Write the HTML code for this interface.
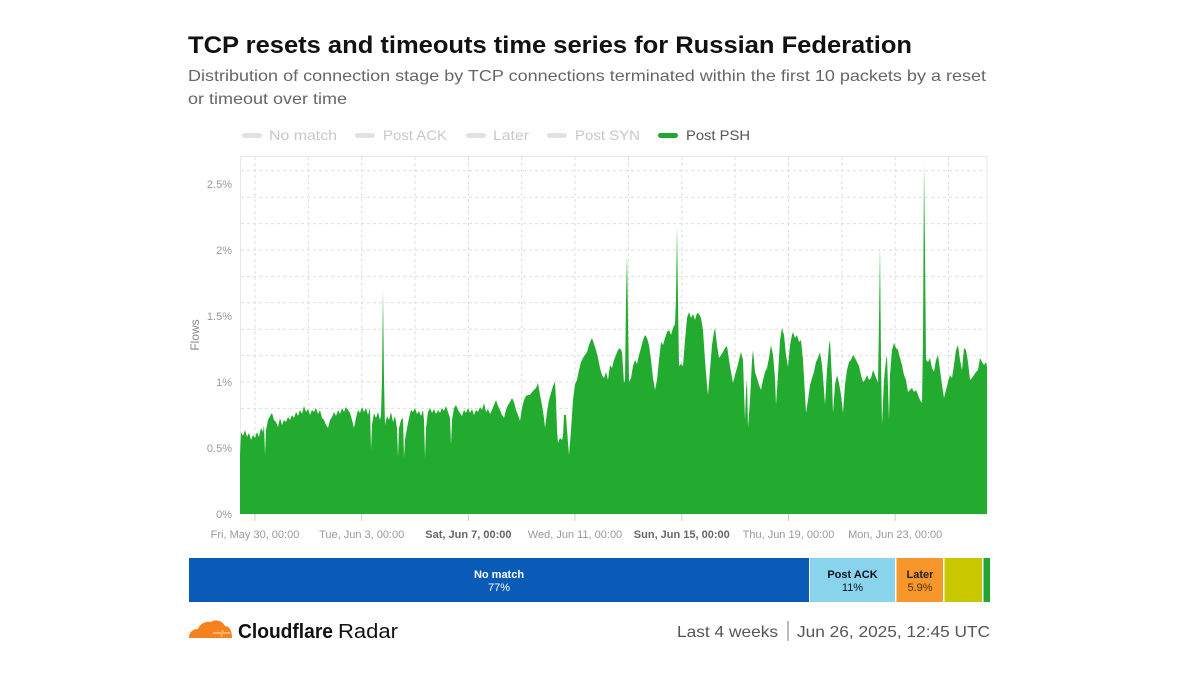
<!DOCTYPE html>
<html><head><meta charset="utf-8"><style>
html,body{margin:0;padding:0;background:#fff;}
svg{display:block;}
text{font-family:"Liberation Sans",Arial,sans-serif;}
</style></head><body>
<svg width="1200" height="675" viewBox="0 0 1200 675" xmlns="http://www.w3.org/2000/svg">
<rect width="1200" height="675" fill="#fff"/>
<!-- Title -->
<text x="188" y="53" font-size="24" font-weight="bold" fill="#111" textLength="724" lengthAdjust="spacingAndGlyphs">TCP resets and timeouts time series for Russian Federation</text>
<text x="188" y="81" font-size="16" fill="#666" textLength="798" lengthAdjust="spacingAndGlyphs">Distribution of connection stage by TCP connections terminated within the first 10 packets by a reset</text>
<text x="188" y="104" font-size="16" fill="#666" textLength="159" lengthAdjust="spacingAndGlyphs">or timeout over time</text>
<!-- Legend -->
<g font-size="14">
<rect x="242" y="133" width="20" height="5" rx="2.5" fill="#e2e2e2"/>
<text x="269" y="140" fill="#c8c8c8" textLength="68" lengthAdjust="spacingAndGlyphs">No match</text>
<rect x="355" y="133" width="20" height="5" rx="2.5" fill="#e2e2e2"/>
<text x="383" y="140" fill="#c8c8c8" textLength="64" lengthAdjust="spacingAndGlyphs">Post ACK</text>
<rect x="466" y="133" width="20" height="5" rx="2.5" fill="#e2e2e2"/>
<text x="493" y="140" fill="#c8c8c8" textLength="36" lengthAdjust="spacingAndGlyphs">Later</text>
<rect x="547" y="133" width="20" height="5" rx="2.5" fill="#e2e2e2"/>
<text x="575" y="140" fill="#c8c8c8" textLength="65" lengthAdjust="spacingAndGlyphs">Post SYN</text>
<rect x="658" y="133" width="20" height="5" rx="2.5" fill="#22a632"/>
<text x="686" y="140" fill="#555" textLength="64" lengthAdjust="spacingAndGlyphs">Post PSH</text>
</g>
<!-- Plot border -->
<rect x="240.5" y="156.5" width="746.5" height="357.5" fill="none" stroke="#e8e8e8" stroke-width="1"/>
<!-- Grid -->
<g stroke="#dedede" stroke-width="1" stroke-dasharray="3,3">
<line x1="241" x2="986" y1="487.6" y2="487.6"/>
<line x1="241" x2="986" y1="461.2" y2="461.2"/>
<line x1="241" x2="986" y1="434.8" y2="434.8"/>
<line x1="241" x2="986" y1="408.4" y2="408.4"/>
<line x1="241" x2="986" y1="382" y2="382"/>
<line x1="241" x2="986" y1="355.6" y2="355.6"/>
<line x1="241" x2="986" y1="329.2" y2="329.2"/>
<line x1="241" x2="986" y1="302.8" y2="302.8"/>
<line x1="241" x2="986" y1="276.4" y2="276.4"/>
<line x1="241" x2="986" y1="250" y2="250"/>
<line x1="241" x2="986" y1="223.6" y2="223.6"/>
<line x1="241" x2="986" y1="197.2" y2="197.2"/>
<line x1="241" x2="986" y1="170.8" y2="170.8"/>
<line x1="255" x2="255" y1="157" y2="514"/>
<line x1="308.3" x2="308.3" y1="157" y2="514"/>
<line x1="361.7" x2="361.7" y1="157" y2="514"/>
<line x1="415" x2="415" y1="157" y2="514"/>
<line x1="468.4" x2="468.4" y1="157" y2="514"/>
<line x1="521.7" x2="521.7" y1="157" y2="514"/>
<line x1="575" x2="575" y1="157" y2="514"/>
<line x1="628.4" x2="628.4" y1="157" y2="514"/>
<line x1="681.8" x2="681.8" y1="157" y2="514"/>
<line x1="735" x2="735" y1="157" y2="514"/>
<line x1="788.5" x2="788.5" y1="157" y2="514"/>
<line x1="841.8" x2="841.8" y1="157" y2="514"/>
<line x1="895.2" x2="895.2" y1="157" y2="514"/>
<line x1="948.5" x2="948.5" y1="157" y2="514"/>
</g>
<!-- Area -->
<path fill="#23ab30" d="M240,514 L240,455 L241,432 L243,436 L245,430 L247,437 L249,433 L251,440 L253,435 L255,438 L257,432 L259,437 L261,428 L263,432 L264,425 L265,455 L266,430 L268,420 L270,416 L272,413 L274,420 L276,422 L278,427 L280,418 L282,425 L284,420 L286,422 L288,417 L290,420 L292,415 L294,418 L296,412 L298,416 L300,410 L302,414 L304,406 L306,412 L308,409 L310,415 L312,410 L314,412 L316,408 L318,414 L320,410 L322,418 L324,420 L326,425 L328,428 L330,420 L332,417 L334,412 L336,416 L338,410 L340,414 L342,408 L344,412 L346,407 L348,410 L350,413 L352,420 L354,428 L356,418 L358,410 L360,413 L362,407 L364,412 L366,408 L368,415 L370,408 L371,450 L372,425 L374,413 L376,418 L378,412 L380,420 L381,415 L382,380 L383,290 L384,380 L385,425 L387,416 L389,420 L391,412 L393,422 L395,416 L397,428 L398,457 L399,428 L401,420 L403,418 L404,458 L405,440 L407,428 L409,418 L411,410 L413,412 L415,408 L417,414 L419,411 L421,416 L423,410 L424,420 L425,458 L426,428 L428,412 L430,408 L432,413 L434,409 L436,414 L438,410 L440,413 L442,408 L444,411 L446,406 L448,412 L450,418 L451,445 L452,420 L454,408 L456,405 L458,410 L460,413 L462,416 L464,410 L466,413 L468,408 L470,413 L472,409 L474,415 L476,410 L478,412 L480,407 L482,410 L484,403 L486,412 L488,409 L490,414 L492,410 L494,405 L496,400 L498,406 L500,410 L502,415 L504,418 L506,410 L508,405 L510,402 L512,398 L514,402 L516,410 L518,415 L520,421 L522,408 L524,400 L526,396 L528,395 L530,395 L532,392 L534,390 L536,388 L538,383 L540,395 L542,405 L544,418 L545,428 L547,412 L549,400 L551,393 L553,386 L555,382 L556,400 L557,430 L558,443 L560,438 L562,440 L563,436 L564,415 L566,415 L567,430 L569,455 L571,430 L573,400 L575,384 L577,380 L579,370 L581,362 L583,358 L585,355 L587,352 L589,345 L591,340 L592,338 L594,344 L596,350 L598,358 L600,368 L602,375 L604,378 L606,372 L608,380 L610,365 L612,368 L614,360 L616,355 L618,350 L620,348 L622,352 L624,383 L625,380 L626,300 L627,255 L628,320 L629,382 L631,378 L633,366 L635,360 L637,364 L639,355 L641,348 L643,340 L645,335 L647,338 L649,345 L651,360 L653,378 L655,390 L657,380 L659,360 L661,342 L663,345 L665,338 L667,332 L669,330 L671,335 L673,328 L675,324 L676,300 L677,226 L678,300 L679,366 L681,364 L683,366 L685,340 L687,318 L689,312 L691,318 L693,314 L695,320 L697,313 L699,314 L701,318 L703,330 L705,360 L707,385 L708,395 L710,370 L712,345 L714,332 L715,328 L717,345 L719,358 L721,355 L723,352 L725,348 L727,346 L729,360 L731,372 L733,383 L735,375 L737,368 L739,360 L741,352 L743,360 L745,420 L746,390 L747,380 L748,428 L750,400 L752,360 L753,350 L755,372 L757,378 L759,385 L761,390 L763,380 L765,372 L767,368 L769,358 L771,345 L773,355 L775,378 L776,405 L778,375 L780,340 L782,328 L784,335 L786,355 L788,367 L790,345 L792,335 L793,332 L795,338 L797,335 L799,342 L801,340 L803,360 L805,395 L806,413 L808,400 L810,385 L812,378 L814,372 L816,362 L818,358 L820,352 L822,365 L824,390 L825,405 L827,370 L829,345 L830,340 L832,380 L833,413 L835,385 L837,375 L839,383 L841,395 L843,413 L845,385 L847,370 L849,362 L851,360 L853,355 L855,358 L857,362 L859,366 L861,375 L863,382 L865,380 L867,375 L869,380 L871,378 L873,370 L875,375 L877,380 L878,383 L879,320 L880,245 L881,360 L882,425 L884,380 L886,360 L887,355 L889,420 L890,375 L892,350 L894,343 L896,348 L898,350 L900,358 L902,365 L904,375 L906,380 L908,392 L910,390 L912,388 L914,392 L916,390 L918,395 L920,400 L922,403 L923,340 L924,162 L925,250 L926,360 L928,362 L930,358 L932,368 L934,372 L936,360 L938,355 L940,370 L942,385 L944,398 L946,390 L948,382 L950,375 L952,378 L954,365 L956,350 L958,345 L960,360 L962,370 L964,348 L966,350 L968,362 L970,380 L972,378 L974,375 L976,372 L978,370 L980,358 L982,362 L984,365 L986,362 L987,367 L987,514 Z"/>
<!-- Y labels -->
<g font-size="11" fill="#999" text-anchor="end">
<text x="232" y="518">0%</text>
<text x="232" y="452">0.5%</text>
<text x="232" y="386">1%</text>
<text x="232" y="320">1.5%</text>
<text x="232" y="254">2%</text>
<text x="232" y="188">2.5%</text>
</g>
<text transform="translate(199,335) rotate(-90)" font-size="12" fill="#888" text-anchor="middle">Flows</text>
<!-- X ticks -->
<g stroke="#ccc" stroke-width="1">
<line x1="255" x2="255" y1="514" y2="521"/>
<line x1="361.7" x2="361.7" y1="514" y2="521"/>
<line x1="468.4" x2="468.4" y1="514" y2="521"/>
<line x1="575" x2="575" y1="514" y2="521"/>
<line x1="681.8" x2="681.8" y1="514" y2="521"/>
<line x1="788.5" x2="788.5" y1="514" y2="521"/>
<line x1="895.2" x2="895.2" y1="514" y2="521"/>
</g>
<g font-size="11" fill="#999" text-anchor="middle">
<text x="255" y="538">Fri, May 30, 00:00</text>
<text x="361.7" y="538">Tue, Jun 3, 00:00</text>
<text x="468.4" y="538" font-weight="bold" fill="#666">Sat, Jun 7, 00:00</text>
<text x="575" y="538">Wed, Jun 11, 00:00</text>
<text x="681.8" y="538" font-weight="bold" fill="#666">Sun, Jun 15, 00:00</text>
<text x="788.5" y="538">Thu, Jun 19, 00:00</text>
<text x="895.2" y="538">Mon, Jun 23, 00:00</text>
</g>
<!-- Stacked bar -->
<rect x="189" y="558" width="620" height="44" fill="#0a5bb8"/>
<rect x="810" y="558" width="85" height="44" fill="#89d3ec"/>
<rect x="896.5" y="558" width="46.5" height="44" fill="#f6962b"/>
<rect x="944.5" y="558" width="37.5" height="44" fill="#c9c800"/>
<rect x="983.5" y="558" width="6.5" height="44" fill="#22a632"/>
<g font-size="11" text-anchor="middle">
<text x="499" y="578" font-weight="bold" fill="#fff">No match</text>
<text x="499" y="591" fill="#fff">77%</text>
<text x="852.5" y="578" font-weight="bold" fill="#112">Post ACK</text>
<text x="852.5" y="591" fill="#112">11%</text>
<text x="920" y="578" font-weight="bold" fill="#222">Later</text>
<text x="920" y="591" fill="#4a3300">5.9%</text>
</g>
<!-- Footer logo -->
<g fill="#f6821f">
<path d="M189,638 C189,632 193,629 198,629 C200,624 205,621 211,622 C215,619 222,620 225,626 C229,626 232,630 232,638 Z"/>
</g>
<path d="M213,633 L230,633" stroke="#fff" stroke-width="1" opacity="0.8"/>
<path d="M221,637 L223,630" stroke="#fbad41" stroke-width="2"/>
<text x="238" y="638" font-size="20" font-weight="bold" fill="#111" textLength="95" lengthAdjust="spacingAndGlyphs">Cloudflare</text>
<text x="338" y="638" font-size="20" fill="#111" textLength="60" lengthAdjust="spacingAndGlyphs">Radar</text>
<text x="677" y="637" font-size="16" fill="#555" textLength="101" lengthAdjust="spacingAndGlyphs">Last 4 weeks</text>
<line x1="788" x2="788" y1="621" y2="641" stroke="#777" stroke-width="1"/>
<text x="797" y="637" font-size="16" fill="#555" textLength="193" lengthAdjust="spacingAndGlyphs">Jun 26, 2025, 12:45 UTC</text>
</svg>
</body></html>
